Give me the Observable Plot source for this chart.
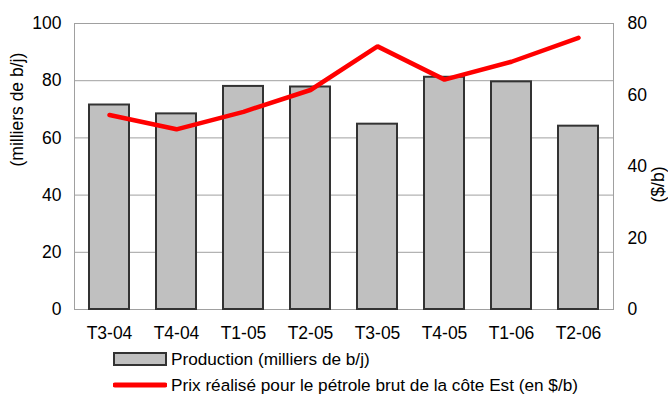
<!DOCTYPE html>
<html>
<head>
<meta charset="utf-8">
<script src="https://cdn.jsdelivr.net/npm/d3@7"></script>
<script src="https://cdn.jsdelivr.net/npm/@observablehq/plot@0.6"></script>
<style>
  html, body { margin: 0; padding: 0; background: #fff; }
  body { width: 668px; height: 394px; position: relative; font-family: "Liberation Sans", Arial, sans-serif; overflow: hidden; }
  #chart { position: absolute; left: 0; top: 0; }
  .legend { position: absolute; left: 113px; font-size: 17.2px; color: #000; }
  .legend .row { display: flex; align-items: center; height: 26px; white-space: nowrap; }
  .legend svg { display: block; margin-right: 4px; }
</style>
</head>
<body>
<div id="chart"></div>
<div class="legend" id="legend" style="top:346px"></div>
<script>
// Trimestres
const quarters = ["T3-04", "T4-04", "T1-05", "T2-05", "T3-05", "T4-05", "T1-06", "T2-06"];
// Production (milliers de b/j)
const production = [71.5, 68.4, 78.0, 77.8, 64.8, 81.2, 79.6, 64.1];
// Prix réalisé pour le pétrole brut de la côte Est ($/b)
const price = [54.4, 50.4, 55.3, 61.4, 73.6, 64.3, 69.3, 76.0];

const leftTicks = [0, 20, 40, 60, 80, 100];
const rightTicks = [0, 20, 40, 60, 80];
const leftMax = 100, rightMax = 80;
const k = leftMax / rightMax; // right-axis values expressed on the left scale

const axisLeftLabel = "(milliers de b/j)";
const axisRightLabel = "($/b)";
const labelProd = "Production (milliers de b/j)";
const labelPrice = "Prix réalisé pour le pétrole brut de la côte Est (en $/b)";

const rows = quarters.map((q, i) => ({q, production: production[i], price: price[i]}));

const fs = 17.5;
const chart = Plot.plot({
  width: 668,
  height: 346,
  marginLeft: 74,
  marginRight: 55,
  marginTop: 23,
  marginBottom: 37,
  style: {fontFamily: "'Liberation Sans', Arial, sans-serif", fontSize: fs + "px", color: "#000", background: "#fff"},
  x: {domain: quarters, paddingInner: 0.4, paddingOuter: 0.2, label: null},
  y: {domain: [0, leftMax], label: null},
  marks: [
    Plot.gridY(leftTicks, {stroke: "#a0a0a0", strokeOpacity: 1, strokeWidth: 1}),
    Plot.frame({stroke: "#a0a0a0", strokeWidth: 1}),
    Plot.barY(rows, {x: "q", y: "production", fill: "#c0c0c0", stroke: "#333", strokeWidth: 2}),
    Plot.line(rows, {x: "q", y: d => d.price * k, stroke: "#ff0000", strokeWidth: 4.5, strokeLinejoin: "miter", strokeLinecap: "round"}),
    Plot.axisX({tickSize: 0, tickPadding: 17, fontSize: fs, label: null}),
    Plot.axisY(leftTicks, {anchor: "left", tickSize: 0, tickPadding: 13, fontSize: fs, label: null}),
    Plot.axisY(rightTicks.map(t => t * k), {anchor: "right", tickSize: 0, tickPadding: 14, fontSize: fs, tickFormat: t => String(Math.round(t / k)), label: null}),
    Plot.text([axisLeftLabel], {frameAnchor: "left", dx: -57, rotate: -90, fontSize: fs}),
    Plot.text([axisRightLabel], {frameAnchor: "right", dx: 45, rotate: -90, fontSize: fs})
  ]
});
document.getElementById("chart").appendChild(chart);

// Legend
const legend = document.getElementById("legend");
legend.innerHTML = `
  <div class="row"><svg width="54" height="14"><rect x="1" y="1" width="52" height="12" fill="#c0c0c0" stroke="#333" stroke-width="2"/></svg><span>${labelProd}</span></div>
  <div class="row"><svg width="54" height="14"><line x1="2" x2="52" y1="7" y2="7" stroke="#ff0000" stroke-width="5" stroke-linecap="round"/></svg><span>${labelPrice}</span></div>`;
</script>
</body>
</html>
